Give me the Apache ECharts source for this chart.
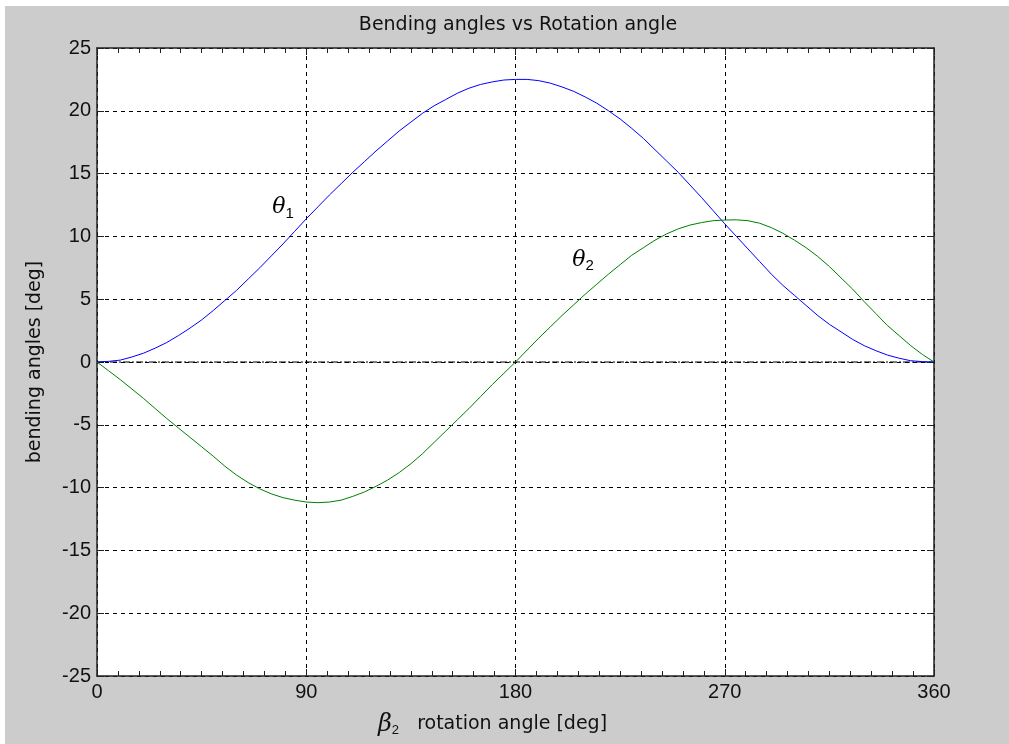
<!DOCTYPE html>
<html>
<head>
<meta charset="utf-8">
<script src="https://cdn.jsdelivr.net/npm/echarts@6/dist/echarts.min.js"></script>
<style>
html,body{margin:0;padding:0;background:#fff;}
#chart{position:absolute;left:5px;top:6px;width:1004px;height:738px;background:#cccccc;}
</style>
</head>
<body>
<div id="chart"></div>
<script>
const beta = [0,5,10,15,20,25,30,35,40,45,50,55,60,65,70,75,80,85,90,95,100,105,110,115,120,125,130,135,140,145,150,155,160,165,170,175,180,185,190,195,200,205,210,215,220,225,230,235,240,245,250,255,260,265,270,275,280,285,290,295,300,305,310,315,320,325,330,335,340,345,350,355,360];
const theta1 = [0,0.05,0.15,0.4,0.7,1.1,1.55,2.1,2.7,3.35,4.1,4.9,5.7,6.6,7.5,8.45,9.4,10.4,11.4,12.35,13.3,14.2,15.1,15.95,16.8,17.6,18.4,19.1,19.8,20.4,20.9,21.4,21.8,22.1,22.3,22.45,22.5,22.5,22.4,22.2,21.9,21.55,21.1,20.6,20.0,19.35,18.6,17.8,16.9,16.0,15.1,14.1,13.1,12.05,11.0,10.0,9.0,8.0,7.0,6.1,5.3,4.5,3.7,3.0,2.4,1.8,1.3,0.9,0.55,0.3,0.1,0.03,0];
const theta2 = [0,-0.7,-1.4,-2.15,-2.9,-3.7,-4.5,-5.25,-6.0,-6.75,-7.5,-8.3,-9.0,-9.6,-10.1,-10.5,-10.8,-11.0,-11.15,-11.2,-11.15,-11.0,-10.7,-10.35,-9.9,-9.4,-8.8,-8.1,-7.3,-6.4,-5.5,-4.6,-3.7,-2.75,-1.8,-0.9,0,0.95,1.9,2.8,3.7,4.55,5.4,6.2,7.0,7.75,8.5,9.1,9.7,10.2,10.6,10.9,11.1,11.25,11.3,11.32,11.25,11.05,10.7,10.25,9.7,9.1,8.4,7.6,6.7,5.8,4.8,3.85,2.9,2.1,1.3,0.6,0];
const zeroLine = [[0,0],[360,0]];
const xTicks = [0,90,180,270,360];
const yTicks = [-25,-20,-15,-10,-5,0,5,10,15,20,25];
const titleText = 'Bending angles vs Rotation angle';
const yName = 'bending angles [deg]';
const xName = 'rotation angle [deg]';

const font = 'Liberation Sans, Arial, sans-serif';
const labFont = 'DejaVu Sans, sans-serif';
const axisCol = '#222';
const chart = echarts.init(document.getElementById('chart'));
const xBase = {
  type:'value', min:xTicks[0], max:xTicks[xTicks.length-1], interval:90,
  axisLine:{show:true, onZero:false, lineStyle:{color:axisCol, width:1.5}},
  axisTick:{show:true, inside:true, length:7, lineStyle:{color:axisCol}},
  minorTick:{show:true, splitNumber:10, length:5, lineStyle:{color:axisCol}},
};
const yBase = {
  type:'value', min:yTicks[0], max:yTicks[yTicks.length-1], interval:5,
  axisLine:{show:true, onZero:false, lineStyle:{color:axisCol, width:1.5}},
  axisTick:{show:true, inside:true, length:7, lineStyle:{color:axisCol}},
};
chart.setOption({
  animation:false,
  backgroundColor:'#cccccc',
  title:{text:titleText, left:508, top:5, textAlign:'center',
    textStyle:{fontFamily:labFont, fontSize:19, fontWeight:'normal', color:'#111'}},
  grid:{left:92, top:42, right:75, bottom:68, show:true, backgroundColor:'#fff', borderWidth:0},
  xAxis:[
    Object.assign({}, xBase, {position:'bottom',
      axisLabel:{color:'#111', fontFamily:font, fontSize:20, margin:6},
      splitLine:{show:true, lineStyle:{color:'#000', type:[4,4], width:1}},
      name:'{b|β}{s|2}   ' + xName, nameLocation:'middle', nameGap:36,
      nameTextStyle:{color:'#111', fontFamily:labFont, fontSize:19, padding:[0,46,0,0],
        rich:{b:{fontStyle:'italic', fontSize:24, fontFamily:'DejaVu Serif, serif', color:'#111'},
              s:{fontSize:13, padding:[12,0,0,0], color:'#111', fontFamily:font}}}}),
    Object.assign({}, xBase, {position:'top', axisLabel:{show:false}, splitLine:{show:false}})
  ],
  yAxis:[
    Object.assign({}, yBase, {position:'left',
      axisLabel:{color:'#111', fontFamily:font, fontSize:20, margin:6},
      splitLine:{show:true, lineStyle:{color:'#000', type:[4,4], width:1}},
      name:yName, nameLocation:'middle', nameGap:52, nameRotate:90,
      nameTextStyle:{color:'#111', fontFamily:labFont, fontSize:19}}),
    Object.assign({}, yBase, {position:'right', axisLabel:{show:false}, splitLine:{show:false}})
  ],
  series:[
    {type:'line', data:zeroLine, symbol:'none', silent:true,
      lineStyle:{color:'#000', width:1, type:[7,2,2,2]}, z:1},
    {type:'line', data:beta.map((b,i)=>[b,theta1[i]]), symbol:'none', smooth:false,
      lineStyle:{color:'#0000ff', width:1}, z:3,
      markPoint:{symbol:'circle', symbolSize:0, silent:true,
        label:{show:true, formatter:'{t|θ}{s|1}', color:'#000',
          rich:{t:{fontStyle:'italic', fontSize:22, fontFamily:'DejaVu Serif, serif', color:'#000'},
                s:{fontSize:15, padding:[12,0,0,0], fontFamily:font, color:'#000'}}},
        data:[{coord:[80,12.3]}]}},
    {type:'line', data:beta.map((b,i)=>[b,theta2[i]]), symbol:'none', smooth:false,
      lineStyle:{color:'#008000', width:1}, z:3,
      markPoint:{symbol:'circle', symbolSize:0, silent:true,
        label:{show:true, formatter:'{t|θ}{s|2}', color:'#000',
          rich:{t:{fontStyle:'italic', fontSize:22, fontFamily:'DejaVu Serif, serif', color:'#000'},
                s:{fontSize:15, padding:[12,0,0,0], fontFamily:font, color:'#000'}}},
        data:[{coord:[209,8.1]}]}}
  ]
});
</script>
</body>
</html>
